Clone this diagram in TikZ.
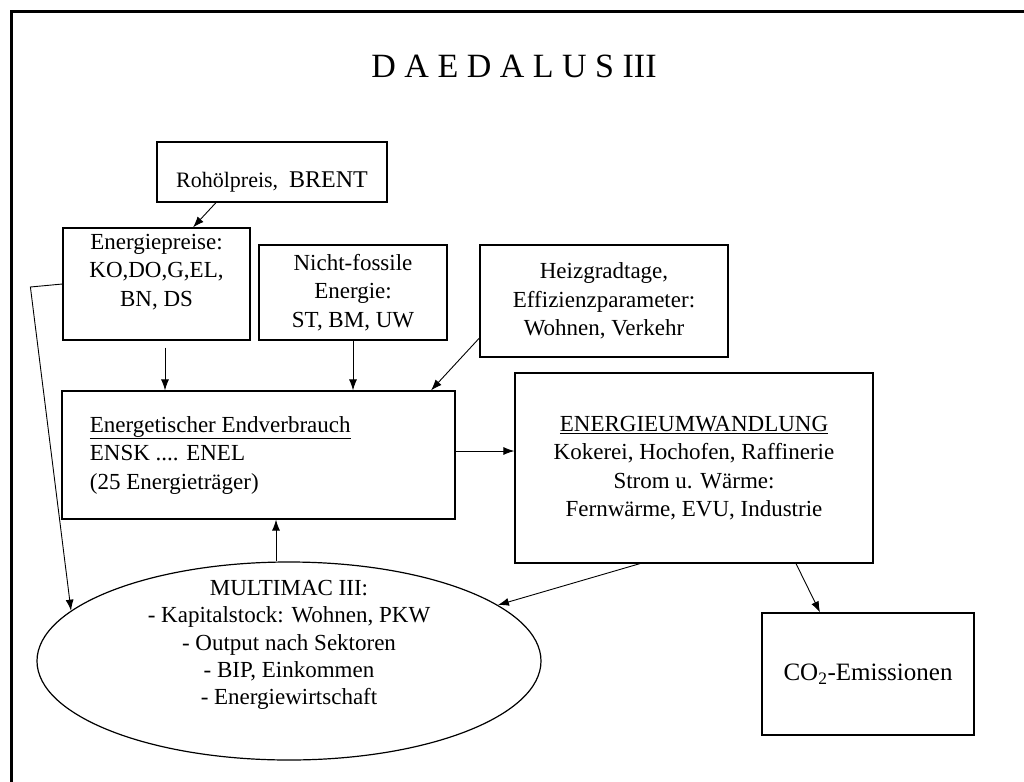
\documentclass[tikz,border=0pt]{standalone}
\usepackage{fontspec}
\setmainfont{Liberation Serif}
\usetikzlibrary{shapes.geometric,arrows.meta}

\tikzset{
  box/.style={draw, line width=1.2pt, align=center, inner sep=0pt},
  txt/.style={font=\fontsize{23}{28.5}\selectfont, align=center, inner sep=0pt},
}

\begin{document}
\begin{tikzpicture}[x=1pt, y=-1pt, >={Latex[length=11pt,width=8pt]}, line width=0.9pt]
\useasboundingbox (0,0) rectangle (1024,781);
\draw[line width=3pt] (11,800) -- (11,12) -- (1040,12);

\node[font=\fontsize{34}{40}\selectfont] (title) at (514,66) {D A E D A L U S III};

% input boxes
\node[box, minimum width=230pt, minimum height=60pt,
  label={[yshift=-10pt]center:{\fontsize{22}{26}\selectfont Rohölpreis,\hspace{11pt}\fontsize{24}{26}\selectfont BRENT}}] (rohoel) at (272,172) {};
\node[box, minimum width=187pt, minimum height=112pt,
  label={[txt, yshift=12pt]center:{Energiepreise:\\KO,DO,G,EL,\\BN, DS}}] (epreise) at (156.5,284) {};
\node[box, txt, minimum width=188pt, minimum height=95pt] (nfossil) at (353,292.5) {Nicht-fossile\\Energie:\\ST, BM, UW};
\node[box, txt, minimum width=248pt, minimum height=112pt] (heiz) at (604,301) {Heizgradtage,\\Effizienzparameter:\\Wohnen, Verkehr};

% core of the model
\node[box, minimum width=393pt, minimum height=128pt,
  label={[txt, align=left, anchor=west, xshift=28pt]west:{\underline{Energetischer Endverbrauch}\\ENSK .... ENEL\\(25 Energieträger)}}] (endv) at (258.5,455) {};
\node[box, txt, minimum width=358pt, minimum height=190pt] (umw) at (694,468) {\underline{ENERGIEUMWANDLUNG}\\Kokerei, Hochofen, Raffinerie\\Strom u. Wärme:\\Fernwärme, EVU, Industrie};
\node[draw, ellipse, line width=1.2pt, minimum width=504pt, minimum height=198pt, inner sep=0pt,
  label={[txt, font=\fontsize{23}{27.2}\selectfont, yshift=16pt]center:{MULTIMAC III:\\- Kapitalstock: Wohnen, PKW\\- Output nach Sektoren\\- BIP, Einkommen\\- Energiewirtschaft}}] (multimac) at (289,661) {};
\node[box, minimum width=212pt, minimum height=122pt, font=\fontsize{25}{30}\selectfont] (co2) at (868,674) {CO\textsubscript{2}-Emissionen};

% links
\draw[->] ([xshift=-56pt]rohoel.south) -- ([xshift=36.5pt]epreise.north);
\draw[->] ([xshift=8.5pt,yshift=-7pt]epreise.south) -- ([xshift=-93.5pt]endv.north);
\draw[->] (nfossil.south) -- (nfossil.south |- endv.north);
\draw[->] ([yshift=-37pt]heiz.west) -- ([xshift=172.5pt]endv.north);
\draw[->] (epreise.west) -- ++(-32,3) -- (multimac.167);
\draw[->] ([yshift=4pt]endv.east) -- ([yshift=4pt]endv.east -| umw.west);
\draw[->] ([xshift=-13pt]multimac.north) -- ([xshift=-13pt]multimac.north |- endv.south);
\draw[->] ([xshift=-54pt]umw.south) -- (multimac.15);
\draw[->] ([xshift=102pt]umw.south) -- ([xshift=-48pt]co2.north);
\end{tikzpicture}
\end{document}
